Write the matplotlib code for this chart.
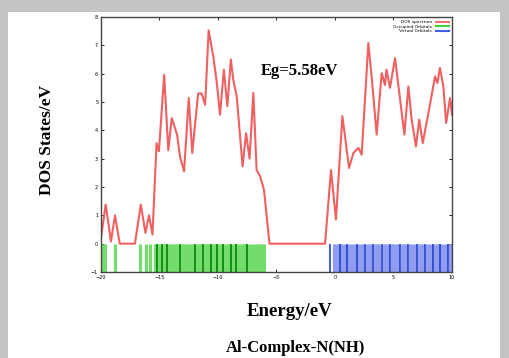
import numpy as np
import matplotlib.pyplot as plt
from matplotlib.patches import Rectangle

# --- DOS spectrum ---
energy = [-20.0, -19.6, -19.15, -18.8, -18.4, -17.1, -16.6, -16.2, -15.9, -15.6,
          -15.25, -15.05, -14.6, -14.25, -13.95, -13.5, -13.25, -12.9, -12.5, -12.2,
          -11.7, -11.4, -11.1, -10.8, -10.4, -10.1, -9.83, -9.5, -9.2, -8.9,
          -8.7, -8.4, -7.9, -7.6, -7.3, -6.98, -6.7, -6.4, -6.07, -5.6,
          -0.85, -0.34, 0.08, 0.63, 1.2, 1.57, 2.0, 2.28, 2.85, 3.13,
          3.56, 3.99, 4.27, 4.4, 4.7, 5.13, 5.93, 6.27, 6.55, 6.92,
          7.2, 7.5, 7.98, 8.55, 8.75, 8.97, 9.26, 9.5, 9.83, 10.0]
dos = [0.2, 1.38, 0.08, 1.0, 0.0, 0.0, 1.38, 0.38, 1.0, 0.32,
       3.55, 3.26, 5.96, 3.3, 4.43, 3.85, 3.08, 2.55, 5.14, 3.2,
       5.3, 5.3, 4.9, 7.53, 6.6, 5.67, 4.55, 6.14, 4.85, 6.5,
       5.8, 5.2, 2.73, 3.9, 3.0, 5.32, 2.6, 2.38, 1.9, 0.0,
       0.0, 2.6, 0.85, 4.5, 2.67, 3.2, 3.38, 3.14, 7.08, 5.9,
       3.85, 6.02, 5.6, 6.14, 5.5, 6.55, 3.85, 5.55, 4.38, 3.43,
       4.38, 3.55, 4.6, 5.9, 5.67, 6.2, 5.55, 4.26, 5.14, 4.55]

# --- orbital energies ---
occ_light = [-19.9, -19.66, -18.8, -16.67, -16.15, -15.8,
             -15.4, -15.3, -15.1, -14.95, -14.7, -14.55, -14.45, -14.2, -14.05, -13.9,
             -13.7, -13.55, -13.4, -13.1, -12.95, -12.8, -12.6, -12.45, -12.3, -12.1,
             -11.85, -11.7, -11.55, -11.45, -11.15, -11.0, -10.85, -10.75, -10.5, -10.35,
             -10.25, -10.0, -9.85, -9.7, -9.4, -9.25, -9.1, -9.05, -8.8, -8.65,
             -8.55, -8.3, -8.1, -7.95, -7.8, -7.65, -7.4, -7.2, -7.05, -6.85,
             -6.7, -6.5, -6.35, -6.2, -6.05]
occ_dark = [-15.19, -14.82, -14.34, -13.25, -11.97, -11.31, -10.63, -10.12,
            -9.56, -8.93, -8.42, -7.56]
virt_light = [-0.05, 0.1, 0.25, 0.55, 0.7, 0.9, 1.15, 1.3, 1.5, 1.7, 2.0, 2.2, 2.4,
              2.7, 2.9, 3.05, 3.4, 3.6, 3.8, 4.15, 4.3, 4.5, 4.85, 5.0, 5.2, 5.4,
              5.7, 5.9, 6.1, 6.4, 6.6, 6.8, 7.15, 7.35, 7.55, 7.85, 8.05, 8.25,
              8.55, 8.7, 8.85, 9.1, 9.3, 9.5, 9.8, 9.95]
virt_dark = [-0.43, 0.43, 1.03, 1.88, 2.56, 3.25, 4.02, 4.70, 5.56, 6.24,
             7.0, 7.7, 8.4, 8.97, 9.66]

xticks = [-20, -15, -10, -5, 0, 5, 10]
yticks = [-1, 0, 1, 2, 3, 4, 5, 6, 7, 8]

fig = plt.figure(figsize=(5.1, 3.58), dpi=100)
fig.patch.set_facecolor('#c4c4c4')

# white card behind everything (gray shadow shows at top / left / right)
bg = fig.add_axes([0, 0, 1, 1], zorder=-5)
bg.axis('off')
bg.add_patch(Rectangle((8 / 510, 0), 492 / 510, 1 - 12 / 358,
                       transform=bg.transAxes, facecolor='white', edgecolor='none'))

ax = fig.add_axes([101 / 510, 1 - 272 / 358, 351 / 510, 255 / 358])

ax.vlines(occ_light, -1, 0, colors='#74dc6c', linewidth=2.3)
ax.vlines(occ_dark, -1, 0, colors='#0c8a0c', linewidth=1.3)
ax.vlines(virt_light, -1, 0, colors='#909cf0', linewidth=2.3)
ax.vlines(virt_dark, -1, 0, colors='#2442c8', linewidth=1.2)
ax.plot(energy, dos, color='#f06060', linewidth=1.5)

# legend entries
lines = [plt.Line2D([], [], color='#f07070', lw=1.5),
         plt.Line2D([], [], color='#40d040', lw=1.5),
         plt.Line2D([], [], color='#4060e0', lw=1.5)]
ax.legend(lines, ['DOS spectrum', 'Occupied Orbitals', 'Virtual Orbitals'],
          loc='upper right', fontsize=3.2, frameon=False, markerfirst=False,
          handlelength=3, borderaxespad=0.3, labelspacing=0.1)

ax.set_xlim(-20, 10)
ax.set_ylim(-1, 8)
ax.set_xticks(xticks)
ax.set_yticks(yticks)
ax.tick_params(direction='in', top=True, right=True, labelsize=3.5,
               length=2.5, width=0.6, pad=2)
for s in ax.spines.values():
    s.set_linewidth(1.0)
    s.set_color('#444444')

ax.text(-3.0, 6.1, 'Eg=5.58eV', fontsize=12, fontweight='bold',
        family='Liberation Serif', ha='center', va='center')

fig.text(47 / 510, 1 - 140 / 358, 'DOS States/eV', rotation=90, fontsize=12.5,
         fontweight='bold', family='Liberation Serif', ha='center', va='center')
fig.text(290 / 510, 1 - 311 / 358, 'Energy/eV', fontsize=13.5,
         fontweight='bold', family='Liberation Serif', ha='center', va='center')
fig.text(296 / 510, 2 / 358, 'Al-Complex-N(NH)', fontsize=12,
         fontweight='bold', family='Liberation Serif', ha='center', va='bottom')

fig.savefig('out.png', dpi=100, facecolor=fig.get_facecolor())
